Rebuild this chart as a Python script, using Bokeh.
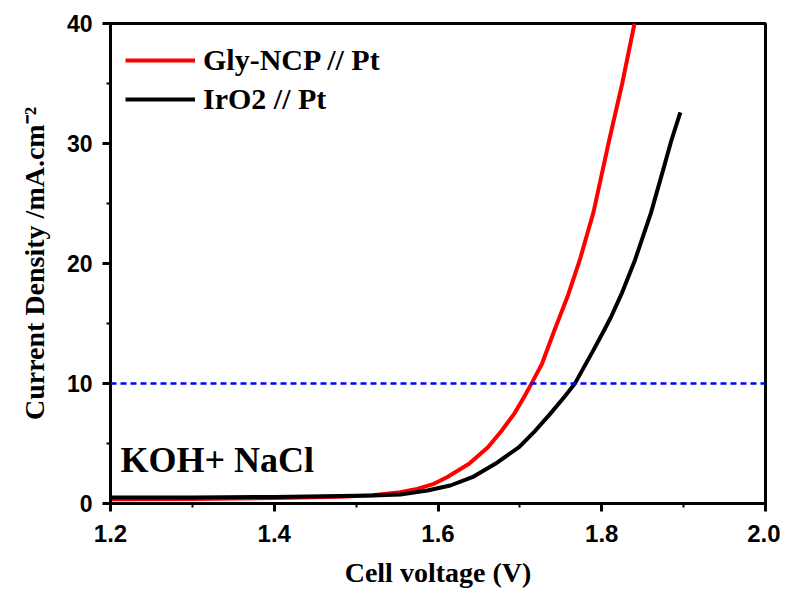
from bokeh.plotting import figure
from bokeh.models import Span, Label, FixedTicker, PrintfTickFormatter, Range1d, Legend, LegendItem
from bokeh.embed import file_html
from bokeh.resources import INLINE

# --- data ---
gly_v = [1.20, 1.30, 1.40, 1.48, 1.52, 1.554, 1.5745, 1.595, 1.611, 1.638, 1.661, 1.678, 1.693, 1.705,
         1.714, 1.727, 1.742, 1.758, 1.773, 1.790, 1.809, 1.825, 1.840]
gly_j = [0.35, 0.38, 0.45, 0.56, 0.68, 0.94, 1.22, 1.64, 2.19, 3.31, 4.69, 6.08, 7.47, 8.86,
         9.97, 11.64, 14.4, 17.2, 20.25, 24.3, 30.25, 35.0, 40.0]

iro_v = [1.20, 1.30, 1.40, 1.48, 1.52, 1.554, 1.587, 1.615, 1.642, 1.670, 1.699, 1.719, 1.737, 1.754,
         1.767, 1.790, 1.8026, 1.811, 1.825, 1.8404, 1.860, 1.875, 1.885, 1.896]
iro_j = [0.50, 0.50, 0.55, 0.62, 0.66, 0.75, 1.08, 1.50, 2.19, 3.31, 4.69, 6.08, 7.47, 8.86,
         9.97, 12.8, 14.4, 15.5, 17.6, 20.25, 24.2, 27.8, 30.25, 32.6]

series_names = ["Gly-NCP // Pt", "IrO2 // Pt"]
ref_current = 10
x_ticks = [1.2, 1.4, 1.6, 1.8, 2.0]
x_minor = [1.3, 1.5, 1.7, 1.9]
y_ticks = [0, 10, 20, 30, 40]
y_minor = [5, 15, 25, 35]
annotation = "KOH+ NaCl"

SERIF = "Liberation Serif"
SANS = "Liberation Sans"

p = figure(width=780, height=594, output_backend="svg", toolbar_location=None,
           x_range=Range1d(1.2, 2.0), y_range=Range1d(0, 40),
           min_border_left=110, min_border_right=15, min_border_top=23, min_border_bottom=91)
p.background_fill_color = "white"
p.border_fill_color = "white"
p.outline_line_color = "black"
p.outline_line_width = 3
p.xgrid.visible = False
p.ygrid.visible = False

for ax, ticks, minor in ((p.xaxis[0], x_ticks, x_minor), (p.yaxis[0], y_ticks, y_minor)):
    ax.ticker = FixedTicker(ticks=ticks, minor_ticks=minor)
    ax.axis_line_width = 3
    ax.axis_line_color = "black"
    ax.major_tick_line_width = 3
    ax.minor_tick_line_width = 2
    ax.major_tick_in = 0
    ax.major_tick_out = 8
    ax.minor_tick_in = 0
    ax.minor_tick_out = 4
    ax.major_label_text_font = SANS
    ax.major_label_text_font_style = "bold"
    ax.major_label_text_color = "black"
    ax.axis_label_text_font = SERIF
    ax.axis_label_text_font_style = "bold"
    ax.axis_label_text_color = "black"

p.xaxis[0].formatter = PrintfTickFormatter(format="%.1f")
p.xaxis[0].major_label_text_font_size = "24px"
p.xaxis[0].major_label_standoff = 13
p.xaxis[0].axis_label = "Cell voltage (V)"
p.xaxis[0].axis_label_text_font_size = "28px"
p.xaxis[0].axis_label_standoff = 12

p.yaxis[0].formatter = PrintfTickFormatter(format="%d")
p.yaxis[0].major_label_text_font_size = "23px"
p.yaxis[0].major_label_standoff = 10
p.yaxis[0].axis_label = "Current Density /mA.cm\u207b\u00b2"
p.yaxis[0].axis_label_text_font_size = "28px"
p.yaxis[0].axis_label_standoff = 14

p.add_layout(Span(location=ref_current, dimension="width", line_color="#0000ff",
                  line_dash="6 4", line_width=2.5))

r1 = p.line(gly_v, gly_j, line_color="#ff0000", line_width=4, line_join="round")
r2 = p.line(iro_v, iro_j, line_color="black", line_width=4, line_join="round")

legend = Legend(items=[LegendItem(label=series_names[0], renderers=[r1]),
                       LegendItem(label=series_names[1], renderers=[r2])],
                location=(15, 387), padding=0, margin=0, spacing=5,
                glyph_width=70, glyph_height=30, label_height=30, label_standoff=8,
                label_text_font=SERIF, label_text_font_style="bold",
                label_text_font_size="30px", label_text_color="black",
                border_line_alpha=0, background_fill_alpha=0)
p.add_layout(legend)

p.add_layout(Label(x=1.2, y=0, x_offset=10, y_offset=44, text=annotation,
                   text_font=SERIF, text_font_style="bold", text_font_size="36px",
                   text_color="black", text_baseline="alphabetic"))

open("out.html", "w").write(file_html(p, INLINE))
